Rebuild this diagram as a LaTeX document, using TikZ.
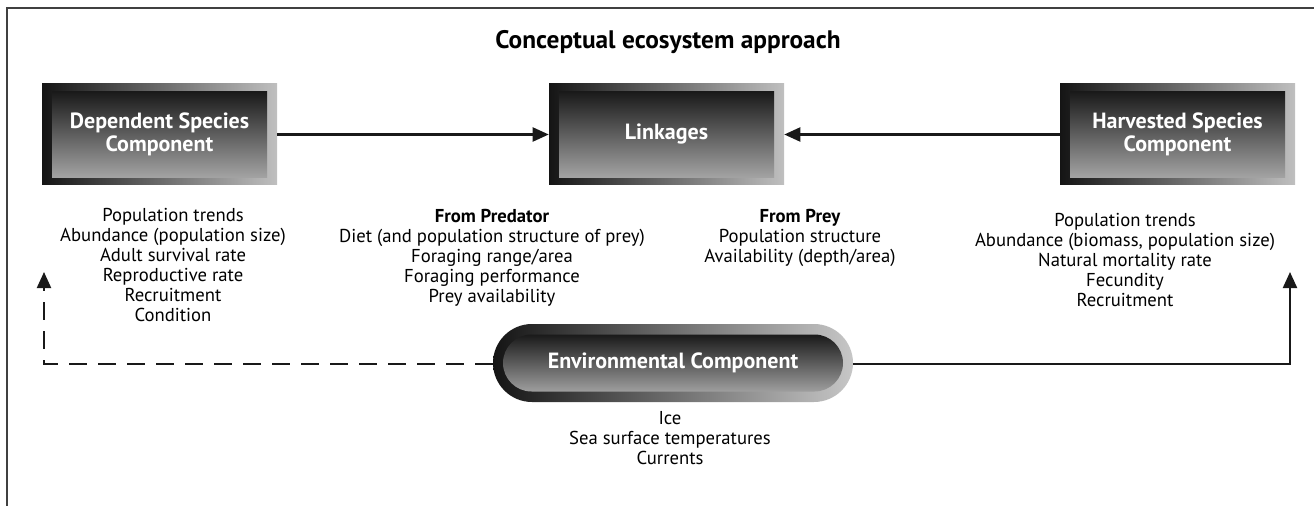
\documentclass[tikz,border=0pt]{standalone}
\usepackage{fontspec}
\setmainfont{PT Sans}
\usetikzlibrary{arrows.meta}

\begin{document}
\begin{tikzpicture}[x=0.75pt,y=0.75pt,yscale=-1,xscale=1,
  boxframe/.style={minimum width=176.25pt,minimum height=75.75pt,inner sep=0pt,left color=black!92,right color=black!25},
  boxinner/.style={minimum width=161.25pt,minimum height=64.5pt,inner sep=0pt,top color=black!90,bottom color=black!36,text=white,font=\fontsize{16.5}{17.5}\selectfont\bfseries,align=center},
  listtext/.style={anchor=north,inner sep=0pt,align=center,font=\fontsize{14}{15}\selectfont},
  conn/.style={line width=1.6pt,draw=black!90,-{Triangle[length=12pt,width=10.5pt]}},
  ]
%set diagram size 1314 x 506
\useasboundingbox (0,0) rectangle (1314,506);

\draw [line width=1.2pt,color=black!75] (1314,8) -- (7,8) -- (7,506);

\node (title) at (668,42) {\fontsize{19}{22}\selectfont\bfseries Conceptual ecosystem approach};

% the three boxes
\node [boxframe] (dep) at (159.5,134.5) {};
\node [boxinner] (depin) at (dep.center) {Dependent Species\\Component};

\node [boxframe] (link) at (666.5,134.5) {};
\node [boxinner] (linkin) at (link.center) {Linkages};

\node [boxframe] (harv) at (1177.5,134.5) {};
\node [boxinner] (harvin) at (harv.center) {Harvested Species\\Component};

\draw [conn] (dep.east) -- (link.west);
\draw [conn] (harv.west) -- (link.east);

% lists
\node [listtext] (deplist) at (173,208) {Population trends\\Abundance (population size)\\Adult survival rate\\Reproductive rate\\Recruitment\\Condition};
\node [listtext] (pred) at (492,209) {\textbf{From Predator}\\Diet (and population structure of prey)\\Foraging range/area\\Foraging performance\\Prey availability};
\node [listtext] (prey) at (800,209) {\textbf{From Prey}\\Population structure\\Availability (depth/area)};
\node [listtext] (harvlist) at (1125,213) {Population trends\\Abundance (biomass, population size)\\Natural mortality rate\\Fecundity\\Recruitment};

% environmental capsule
\node [minimum width=270pt,minimum height=58.5pt,inner sep=0pt,rounded corners=29.25pt,left color=black!92,right color=black!22] (env) at (673,363) {};
\node [minimum width=255pt,minimum height=42.75pt,inner sep=0pt,rounded corners=21.4pt,top color=black!90,bottom color=black!38,text=white,font=\fontsize{16.5}{17.5}\selectfont\bfseries] (envin) at (env.center) {Environmental Component};

\node [listtext] (envlist) at (670,411) {Ice\\Sea surface temperatures\\Currents};

\coordinate (dcorner) at (44,364);
\coordinate (dtip) at (44,272);
\coordinate (scorner) at (1290,364);
\coordinate (stip) at (1290,272);

\draw [conn,dash pattern={on 13.5pt off 8.25pt}] (env.west |- dcorner) -- (dcorner) -- (dtip);
\draw [conn] (env.east |- scorner) -- (scorner) -- (stip);

\end{tikzpicture}
\end{document}
